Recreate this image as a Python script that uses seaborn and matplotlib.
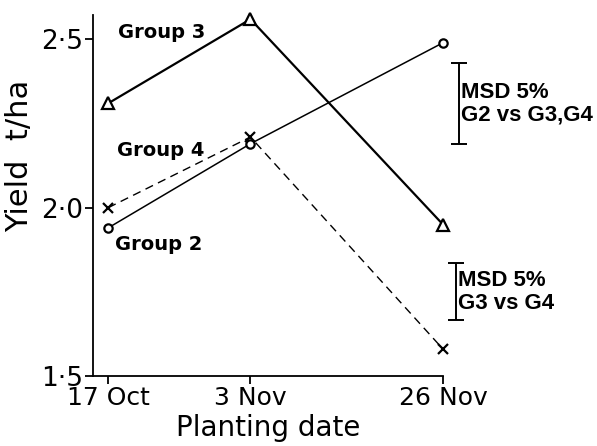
import matplotlib
matplotlib.use("Agg")
import pandas as pd
import numpy as np
import matplotlib.pyplot as plt
import seaborn as sns

# =====================================================
# DONNÉES
# =====================================================
dates = ["17 Oct", "3 Nov", "26 Nov"]
jours = [0, 17, 40]          # jours depuis le 17 Oct
groupe2 = [1.94, 2.19, 2.49]
groupe3 = [2.31, 2.56, 1.95]
groupe4 = [2.00, 2.21, 1.58]

msd_g2 = (2.31, 0.12)        # centre, demi-longueur
msd_g3 = (1.75, 0.085)

df = pd.DataFrame({
    "jour": jours * 3,
    "rendement": groupe2 + groupe3 + groupe4,
    "groupe": ["Group 2"] * 3 + ["Group 3"] * 3 + ["Group 4"] * 3,
})

# =====================================================
# FIGURE
# =====================================================
sns.set_style("ticks")
plt.rcParams["font.family"] = ["DejaVu Sans"]
plt.rcParams["text.color"] = "black"
plt.rcParams["axes.labelcolor"] = "black"

fig = plt.figure(figsize=(5.97, 4.46), dpi=100)
ax = fig.add_axes([0.156, 0.157, 0.586, 0.809])

styles = {
    "Group 2": dict(marker="o", ls="-", lw=1.1, ms=6),
    "Group 3": dict(marker="^", ls="-", lw=1.6, ms=8),
    "Group 4": dict(marker="x", ls=(0, (6, 4)), lw=1.0, ms=7),
}
for nom, st in styles.items():
    sub = df[df["groupe"] == nom]
    sns.lineplot(data=sub, x="jour", y="rendement", ax=ax, color="black",
                 linestyle=st["ls"], linewidth=st["lw"], marker=st["marker"],
                 markersize=st["ms"], markerfacecolor="white",
                 markeredgecolor="black", markeredgewidth=1.6, legend=False,
                 clip_on=False, zorder=3)

ax.set_xlim(-1.8, 40)
ax.set_ylim(1.5, 2.572)
ax.set_xticks(jours)
ax.set_xticklabels(dates, fontsize=18)
ax.set_yticks([1.5, 2.0, 2.5])
ax.set_yticklabels(["1·5", "2·0", "2·5"], fontsize=19)
ax.tick_params(direction="out", length=6, width=1.3, colors="black", pad=1)
ax.set_xlabel("Planting date", fontsize=20, labelpad=3)
ax.set_ylabel("Yield  t/ha", fontsize=22)
ax.yaxis.set_label_coords(-0.17, 0.61)
sns.despine(ax=ax)
for s in ["left", "bottom"]:
    ax.spines[s].set_linewidth(1.3)
    ax.spines[s].set_color("black")

# Étiquettes des groupes
ax.text(1.2, 2.52, "Group 3", fontsize=14, fontweight="bold", va="center")
ax.text(1.1, 2.17, "Group 4", fontsize=14, fontweight="bold", va="center")
ax.text(0.8, 1.89, "Group 2", fontsize=14, fontweight="bold", va="center")

# Barres MSD
for (centre, demi), xb, lignes in [(msd_g2, 41.9, "MSD 5%\nG2 vs G3,G4"),
                                   (msd_g3, 41.5, "MSD 5%\nG3 vs G4")]:
    ax.errorbar([xb], [centre], yerr=[demi], color="black", capsize=6,
                elinewidth=1.4, capthick=1.4, clip_on=False)
    ax.text(xb + 0.3, centre, lignes, fontsize=16, fontweight="bold",
            family=["Liberation Sans", "DejaVu Sans"],
            va="center", ha="left", linespacing=1.1, clip_on=False)

fig.savefig("out.png", dpi=100)
